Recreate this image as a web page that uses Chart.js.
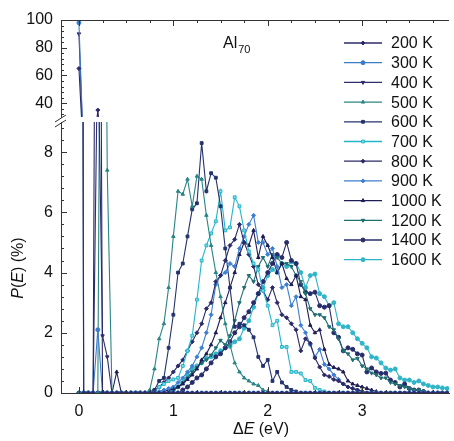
<!DOCTYPE html>
<html>
<head>
<meta charset="utf-8">
<script src="https://cdn.jsdelivr.net/npm/chart.js@4.4.0/dist/chart.umd.min.js"></script>
<style>
  body { margin: 0; background: #fff; }
  #wrap { position: relative; width: 454px; height: 441px; }
  #wrap canvas { position: absolute; left: 0; top: 0; }
</style>
</head>
<body>
<div id="wrap">
  <canvas id="topChart" width="454" height="441"></canvas>
  <canvas id="bottomChart" width="454" height="441"></canvas>
</div>
<script>
// energy grid (eV)
const energies = [
  0, 0.05, 0.1, 0.15, 0.2, 0.25, 0.3, 0.35, 0.4, 0.45,
  0.5, 0.55, 0.6, 0.65, 0.7, 0.75, 0.8, 0.85, 0.9, 0.95,
  1, 1.05, 1.1, 1.15, 1.2, 1.25, 1.3, 1.35, 1.4, 1.45,
  1.5, 1.55, 1.6, 1.65, 1.7, 1.75, 1.8, 1.85, 1.9, 1.95,
  2, 2.05, 2.1, 2.15, 2.2, 2.25, 2.3, 2.35, 2.4, 2.45,
  2.5, 2.55, 2.6, 2.65, 2.7, 2.75, 2.8, 2.85, 2.9, 2.95,
  3, 3.05, 3.1, 3.15, 3.2, 3.25, 3.3, 3.35, 3.4, 3.45,
  3.5, 3.55, 3.6, 3.65, 3.7, 3.75, 3.8, 3.85, 3.9
];

const temps = ['200 K', '300 K', '400 K', '500 K', '600 K', '700 K',
               '800 K', '900 K', '1000 K', '1200 K', '1400 K', '1600 K'];

const p200 = [
  65, 0, 0, 0, 35, 0, 0, 0, 0, 0,
  0, 0, 0, 0, 0, 0, 0, 0, 0, 0,
  0, 0, 0, 0, 0, 0, 0, 0, 0, 0,
  0, 0, 0, 0, 0, 0, 0, 0, 0, 0,
  0, 0, 0, 0, 0, 0, 0, 0, 0, 0,
  0, 0, 0, 0, 0, 0, 0, 0, 0, 0,
  0, 0, 0, 0, 0, 0, 0, 0, 0, 0,
  0, 0, 0, 0, 0, 0, 0, 0, 0
];
const p300 = [
  98, 0, 0, 0, 2.1, 0, 0, 0, 0, 0,
  0, 0, 0, 0, 0, 0, 0, 0, 0, 0,
  0, 0, 0, 0, 0, 0, 0, 0, 0, 0,
  0, 0, 0, 0, 0, 0, 0, 0, 0, 0,
  0, 0, 0, 0, 0, 0, 0, 0, 0, 0,
  0, 0, 0, 0, 0, 0, 0, 0, 0, 0,
  0, 0, 0, 0, 0, 0, 0, 0, 0, 0,
  0, 0, 0, 0, 0, 0, 0, 0, 0
];
const p400 = [
  90, 0, 0, 0, 12, 1.9, 1.2, 0, 0, 0,
  0, 0, 0, 0, 0, 0, 0, 0, 0, 0,
  0, 0, 0, 0, 0, 0, 0, 0, 0, 0,
  0, 0, 0, 0, 0, 0, 0, 0, 0, 0,
  0, 0, 0, 0, 0, 0, 0, 0, 0, 0,
  0, 0, 0, 0, 0, 0, 0, 0, 0, 0,
  0, 0, 0, 0, 0, 0, 0, 0, 0, 0,
  0, 0, 0, 0, 0, 0, 0, 0, 0
];
const p500 = [
  0, 0, 0, 0, 0, 28, 7.4, 0, 0, 0,
  0, 0, 0, 0, 0, 0.1, 0.8, 1.8, 2.3, 3.5,
  5.2, 6.7, 6.6, 7.1, 6.2, 7.2, 7.1, 5.9, 4.9, 4.0,
  3.2, 2.3, 1.6, 1.0, 0.7, 0.5, 0.4, 0.3, 0.25, 0.1,
  0.05, 0, 0, 0, 0, 0, 0, 0, 0, 0,
  0, 0, 0, 0, 0, 0, 0, 0, 0, 0,
  0, 0, 0, 0, 0, 0, 0, 0, 0, 0,
  0, 0, 0, 0, 0, 0, 0, 0, 0
];
const p600 = [
  0, 0, 0, 0, 0, 0, 0, 0, 0, 0,
  0, 0, 0, 0, 0, 0, 0.1, 0.4, 0.5, 1.5,
  2.6, 4.0, 4.3, 5.2, 6.1, 6.3, 8.3, 6.7, 7.3, 7.15,
  6.2, 4.8, 3.5, 2.2, 2.3, 2.25, 2.1, 1.85, 1.2, 0.9,
  1.1, 0.4, 0.7, 0.35, 0.2, 0.1, 0.05, 0, 0, 0,
  0, 0, 0, 0, 0, 0, 0, 0, 0, 0,
  0, 0, 0, 0, 0, 0, 0, 0, 0, 0,
  0, 0, 0, 0, 0, 0, 0, 0, 0
];
const p700 = [
  0, 0, 0, 0, 0, 0, 0, 0, 0, 0,
  0, 0, 0, 0, 0, 0, 0.05, 0.2, 0.3, 0.4,
  0.45, 0.5, 0.9, 1.4, 1.9, 3.1, 4.4, 4.9, 5.3, 5.7,
  6.7, 5.4, 5.5, 6.5, 6.2, 5.4, 4.7, 4.3, 4.1, 3.4,
  2.9, 2.25, 2.4, 1.53, 1.53, 0.7, 0.7, 0.65, 0.43, 0.4,
  0.17, 0.1, 0.05, 0, 0, 0, 0, 0, 0, 0,
  0, 0, 0, 0, 0, 0, 0, 0, 0, 0,
  0, 0, 0, 0, 0, 0, 0, 0, 0
];
const p800 = [
  0, 0, 0, 0, 0, 0, 0, 0, 0, 0,
  0, 0, 0, 0, 0, 0, 0.1, 0.2, 0.35, 0.5,
  0.7, 0.9, 1.1, 1.4, 1.7, 2.0, 2.3, 2.8, 3.0, 3.7,
  3.9, 4.4, 4.9, 5.1, 5.6, 5.0, 4.6, 4.2, 3.6, 3.4,
  3.1, 3.5, 3.0, 2.6, 2.5, 2.3, 2.1, 1.4, 1.8, 1.65,
  1.16, 0.86, 0.6, 0.55, 0.45, 0.4, 0.3, 0.2, 0.15, 0.1,
  0.05, 0, 0, 0, 0, 0, 0, 0, 0, 0,
  0, 0, 0, 0, 0, 0, 0, 0, 0
];
const p900 = [
  0, 0, 0, 0, 0, 0, 0, 0, 0, 0,
  0, 0, 0, 0, 0, 0, 0, 0.05, 0.1, 0.15,
  0.2, 0.35, 0.5, 0.7, 0.9, 1.2, 1.5, 2.0, 2.6, 3.6,
  3.9, 4.0, 4.3, 4.2, 4.8, 5.2, 5.6, 5.9, 5.0, 5.0,
  4.6, 4.8, 4.2, 3.5, 3.6, 2.9, 3.2, 2.25, 2.0, 1.6,
  1.2, 1.45, 0.95, 0.8, 0.6, 0.45, 0.3, 0.2, 0.15, 0.1,
  0.05, 0, 0, 0, 0, 0, 0, 0, 0, 0,
  0, 0, 0, 0, 0, 0, 0, 0, 0
];
const p1000 = [
  0, 0, 0, 0, 0, 0, 0, 0, 0.7, 0,
  0, 0, 0, 0, 0, 0, 0, 0, 0.05, 0.1,
  0.15, 0.2, 0.3, 0.45, 0.6, 0.8, 1.1, 1.3, 1.6, 2.0,
  2.5, 3.0, 3.5, 4.0, 4.6, 5.0, 4.9, 5.4, 4.5, 5.2,
  4.9, 4.5, 4.0, 4.3, 3.8, 3.6, 3.9, 3.2, 3.1, 2.25,
  2.0, 2.1, 1.45, 0.95, 0.85, 0.8, 0.7, 0.4, 0.3, 0.25,
  0.2, 0.15, 0.1, 0.05, 0, 0, 0, 0, 0, 0,
  0, 0, 0, 0, 0, 0, 0, 0, 0
];
const p1200 = [
  0, 0, 0, 0, 0, 0, 0, 0, 0, 0,
  0, 0, 0, 0, 0, 0, 0, 0, 0, 0,
  0.1, 0.2, 0.35, 0.5, 0.7, 0.85, 1.0, 1.1, 1.26, 1.5,
  1.75, 1.6, 1.9, 2.4, 3.0, 3.5, 3.9, 3.7, 4.2, 4.5,
  4.2, 4.6, 4.5, 4.3, 4.3, 4.2, 3.9, 3.7, 3.3, 2.8,
  2.6, 2.6, 2.5, 2.2, 2.1, 1.8, 1.4, 1.3, 1.1, 1.15,
  0.9, 0.8, 0.66, 0.6, 0.5, 0.5, 0.35, 0.3, 0.25, 0.2,
  0.15, 0.1, 0.1, 0.05, 0, 0, 0, 0, 0
];
const p1400 = [
  0, 0, 0, 0, 0, 0, 0, 0, 0, 0,
  0, 0, 0, 0, 0, 0, 0, 0, 0, 0,
  0, 0, 0.1, 0.2, 0.35, 0.5, 0.6, 0.8, 1.0, 1.2,
  1.3, 1.5, 1.7, 2.0, 2.2, 2.5, 2.7, 3.0, 3.3, 3.7,
  4.0, 4.3, 4.6, 4.5, 5.0, 4.4, 4.3, 3.6, 3.35, 3.3,
  3.35, 2.9, 2.85, 2.9, 2.0, 1.85, 1.4, 1.5, 1.45, 1.3,
  1.26, 0.7, 0.83, 0.7, 0.65, 0.66, 0.43, 0.35, 0.2, 0.3,
  0.15, 0.1, 0.1, 0.05, 0, 0, 0, 0, 0
];
const p1600 = [
  0, 0, 0, 0, 0, 0, 0, 0, 0, 0,
  0, 0, 0, 0, 0, 0, 0, 0, 0, 0,
  0.1, 0.2, 0.35, 0.6, 0.8, 0.9, 1.0, 1.15, 1.2, 1.3,
  1.4, 1.5, 1.55, 1.7, 1.8, 2.15, 2.4, 2.85, 3.3, 3.5,
  3.9, 4.1, 4.0, 4.3, 4.2, 4.35, 4.3, 4.0, 3.5, 3.9,
  3.95, 3.3, 3.2, 2.9, 3.0, 2.3, 2.2, 2.2, 2.0, 1.8,
  1.65, 1.5, 1.2, 1.16, 1.0, 0.83, 0.76, 0.8, 0.5, 0.43,
  0.43, 0.35, 0.4, 0.3, 0.25, 0.2, 0.2, 0.17, 0.15
];

const xTicks = [0, 1, 2, 3];
const yTopTicks = [40, 60, 80, 100];
const yBotTicks = [0, 2, 4, 6, 8];

const series = [p200, p300, p400, p500, p600, p700, p800, p900, p1000, p1200, p1400, p1600];

// line look per temperature
const looks = [
  {color: '#2b2a6b', point: 'rectRot', rot: 0},
  {color: '#3a7cc7', point: 'circle', rot: 0},
  {color: '#2e2d6e', point: 'triangle', rot: 180},
  {color: '#2a8585', point: 'triangle', rot: 0},
  {color: '#24336e', point: 'rect', rot: 0},
  {color: '#22b6ca', point: 'rect', rot: 0, fill: '#8fd9e4'},
  {color: '#2c2a68', point: 'rectRot', rot: 0},
  {color: '#3b7fd0', point: 'rectRot', rot: 0},
  {color: '#1e1d55', point: 'triangle', rot: 0},
  {color: '#1f6f73', point: 'triangle', rot: 180},
  {color: '#272d6b', point: 'circle', rot: 0},
  {color: '#2fb5c7', point: 'circle', rot: 0}
];

const FONT = '"Liberation Sans", Arial, sans-serif';
const axisColor = '#333';
const textColor = '#111';
Chart.defaults.font.family = FONT;
Chart.defaults.color = textColor;

function makeDatasets() {
  return series.map((vals, i) => ({
    label: temps[i],
    data: vals.map((v, k) => ({x: energies[k], y: v})),
    borderColor: looks[i].color,
    backgroundColor: looks[i].fill || looks[i].color,
    pointStyle: looks[i].point,
    pointRotation: looks[i].rot,
    pointRadius: 2,
    pointBorderWidth: 1,
    borderWidth: 1.1,
    tension: 0
  }));
}

function xScale(display) {
  const sc = {
    type: 'linear',
    min: -0.19,
    max: 3.92,
    display: display,
    afterBuildTicks: s => { s.ticks = xTicks.map(v => ({value: v})); },
    grid: {drawOnChartArea: false, drawTicks: false},
    border: {color: axisColor, width: 1},
    ticks: {font: {size: 16}, color: textColor, padding: 9}
  };
  if (display) sc.afterFit = s => { s.height = 48; };
  return sc;
}

function yScale(min, max, tickVals) {
  return {
    type: 'linear',
    min: min,
    max: max,
    afterBuildTicks: s => { s.ticks = tickVals.map(v => ({value: v})); },
    afterFit: s => { s.width = 61; },
    grid: {drawOnChartArea: false, drawTicks: false},
    border: {color: axisColor, width: 1},
    ticks: {font: {size: 16}, color: textColor, padding: 8, autoSkip: false}
  };
}

function drawRuns(ctx, runs, cx, cy) {
  let total = 0;
  const widths = runs.map(r => { ctx.font = r[1]; const w = ctx.measureText(r[0]).width; total += w; return w; });
  let x = cx - total / 2;
  ctx.textAlign = 'left';
  ctx.textBaseline = 'middle';
  runs.forEach((r, i) => { ctx.font = r[1]; ctx.fillText(r[0], x, cy); x += widths[i]; });
}

const topFrame = {
  id: 'topFrame',
  afterDraw(chart) {
    const {ctx, chartArea: a} = chart;
    const x = chart.scales.x, y = chart.scales.y;
    ctx.save();
    ctx.strokeStyle = axisColor;
    ctx.lineWidth = 1;
    ctx.beginPath();
    ctx.moveTo(a.left, a.top + 0.5);
    ctx.lineTo(a.right, a.top + 0.5);
    for (let k = 0; k * 0.25 <= 3.9; k++) {
      const px = Math.round(x.getPixelForValue(k * 0.25)) + 0.5;
      const len = k % 4 === 0 ? 6 : 3;
      ctx.moveTo(px, a.top);
      ctx.lineTo(px, a.top + len);
    }
    for (let v = 32; v <= 100; v += 4) {
      const py = Math.round(y.getPixelForValue(v)) + 0.5;
      const len = v % 20 === 0 ? 6 : 3;
      ctx.moveTo(a.left, py);
      ctx.lineTo(a.left + len, py);
    }
    ctx.stroke();
    ctx.restore();
  }
};

const bottomFrame = {
  id: 'bottomFrame',
  afterDraw(chart) {
    const {ctx, chartArea: a} = chart;
    const x = chart.scales.x, y = chart.scales.y;
    ctx.save();
    ctx.strokeStyle = axisColor;
    ctx.lineWidth = 1;
    ctx.beginPath();
    for (let k = 0; k <= 22; k++) {
      const py = Math.round(y.getPixelForValue(k * 0.4)) + 0.5;
      const len = k % 5 === 0 ? 6 : 3;
      ctx.moveTo(a.left, py);
      ctx.lineTo(a.left + len, py);
    }
    for (let k = 0; k * 0.25 <= 3.9; k++) {
      const px = Math.round(x.getPixelForValue(k * 0.25)) + 0.5;
      const len = k % 4 === 0 ? 6 : 3;
      ctx.moveTo(px, a.bottom);
      ctx.lineTo(px, a.bottom - len);
    }
    // axis break
    ctx.moveTo(55, 122); ctx.lineTo(66, 115);
    ctx.moveTo(55, 127); ctx.lineTo(66, 120);
    ctx.stroke();

    ctx.fillStyle = textColor;
    // axis titles
    drawRuns(ctx, [['\u0394', '16px ' + FONT], ['E', 'italic 16px ' + FONT], [' (eV)', '16px ' + FONT]], 261, 430);
    ctx.save();
    ctx.translate(19, 268);
    ctx.rotate(-Math.PI / 2);
    drawRuns(ctx, [['P', 'italic 16px ' + FONT], ['(', '16px ' + FONT], ['E', 'italic 16px ' + FONT], [') (%)', '16px ' + FONT]], 0, 0);
    ctx.restore();

    // cluster label
    ctx.textAlign = 'left';
    ctx.textBaseline = 'alphabetic';
    ctx.font = '16px ' + FONT;
    ctx.fillText('Al', 223, 48);
    const w = ctx.measureText('Al').width;
    ctx.font = '11px ' + FONT;
    ctx.fillText('70', 223 + w + 1, 53);

    // legend
    ctx.font = '16px ' + FONT;
    ctx.textBaseline = 'middle';
    temps.forEach((t, i) => {
      const ly = 43 + i * 19.7;
      const lk = looks[i];
      ctx.strokeStyle = lk.color;
      ctx.lineWidth = 1.3;
      ctx.beginPath();
      ctx.moveTo(344, ly);
      ctx.lineTo(382, ly);
      ctx.stroke();
      ctx.fillStyle = lk.fill || lk.color;
      ctx.lineWidth = 1;
      Chart.helpers.drawPoint(ctx, {pointStyle: lk.point, rotation: lk.rot, radius: 2, borderWidth: 1}, 363, ly);
      ctx.fillStyle = textColor;
      ctx.fillText(t, 391, ly + 1);
    });
    ctx.restore();
  }
};

new Chart(document.getElementById('topChart'), {
  type: 'line',
  data: {datasets: makeDatasets()},
  options: {
    responsive: false,
    animation: false,
    layout: {padding: {left: 0, right: 0, top: 20, bottom: 324}},
    plugins: {legend: {display: false}, tooltip: {enabled: false}},
    scales: {x: xScale(false), y: yScale(30, 100, yTopTicks)}
  },
  plugins: [topFrame]
});

new Chart(document.getElementById('bottomChart'), {
  type: 'line',
  data: {datasets: makeDatasets()},
  options: {
    responsive: false,
    animation: false,
    layout: {padding: {left: 0, right: 0, top: 122, bottom: 0}},
    plugins: {legend: {display: false}, tooltip: {enabled: false}},
    scales: {x: xScale(true), y: yScale(0, 9, yBotTicks)}
  },
  plugins: [bottomFrame]
});
</script>
</body>
</html>
